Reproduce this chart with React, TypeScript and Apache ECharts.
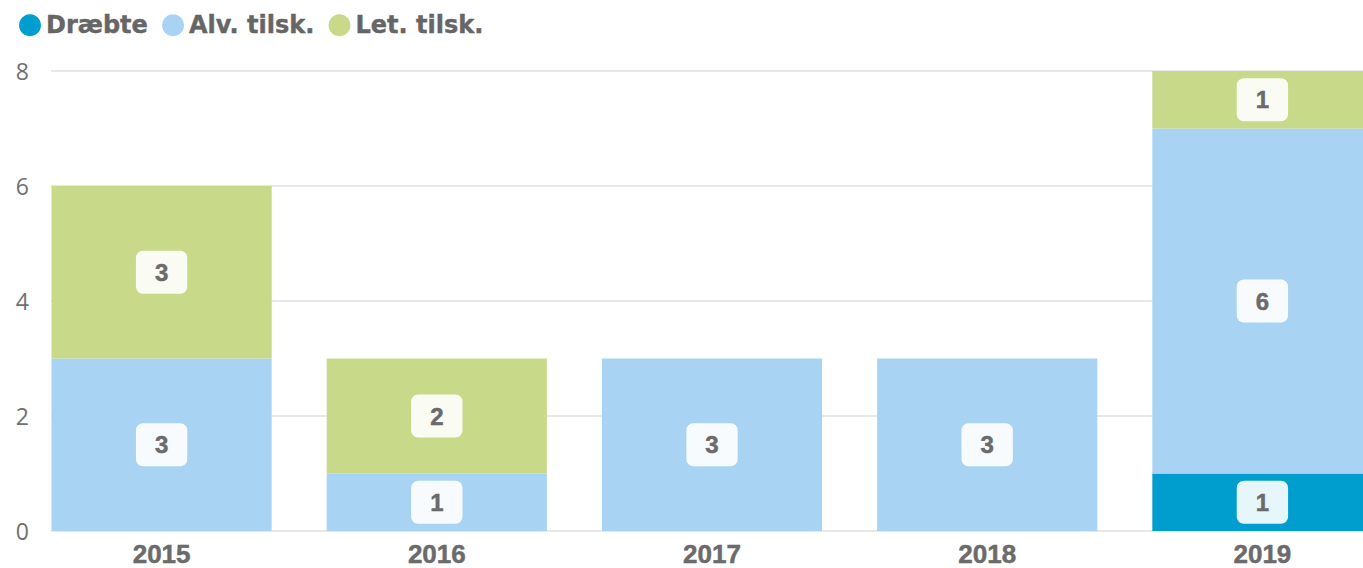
import React, { useEffect, useRef } from "react";
import * as echarts from "echarts";

const years = ["2015", "2016", "2017", "2018", "2019"];
const seriesNames = ["Dræbte", "Alv. tilsk.", "Let. tilsk."];
const draebte = [0, 0, 0, 0, 1];
const alvTilsk = [3, 1, 3, 3, 6];
const letTilsk = [3, 2, 0, 0, 1];
const colors = ["#009ece", "#a8d3f3", "#c8d98a"];
const yTicks = { min: 0, max: 8, interval: 2 };

export default function App() {
  const ref = useRef<HTMLDivElement>(null);
  useEffect(() => {
    if (!ref.current) return;
    const chart = echarts.init(ref.current, undefined, { renderer: "svg" });
    const labelStyle = {
      show: true,
      position: "inside",
      fontFamily: "Liberation Sans",
      fontWeight: "bold",
      fontSize: 24,
      lineHeight: 25,
      color: "#6b6b6b",
      textBorderColor: "#6b6b6b",
      textBorderWidth: 0.5,
      backgroundColor: "rgba(255,255,255,0.9)",
      borderRadius: 7,
      padding: [9, 19, 9, 19],
    };
    const mk = (name: string, vals: number[], i: number) => ({
      name,
      type: "bar",
      stack: "total",
      xAxisIndex: 1,
      yAxisIndex: 1,
      barCategoryGap: "20%",
      itemStyle: { color: colors[i] },
      label: labelStyle,
      data: vals.map((v) => ({ value: v, label: { show: v > 0 } })),
    });
    chart.setOption({
      animation: false,
      color: colors,
      legend: {
        left: 14,
        top: 8,
        icon: "circle",
        itemWidth: 22,
        itemHeight: 22,
        itemGap: 14,
        textStyle: {
          fontFamily: "DejaVu Sans",
          fontWeight: "bold",
          fontSize: 24,
          color: "#666666",
          textBorderColor: "#666666",
          textBorderWidth: 0.4,
          padding: [0, 0, 0, 0],
        },
        data: seriesNames,
      },
      grid: [
        { left: 51, right: 37, top: 71, bottom: 37 },
        { left: 24, right: 0, top: 71, bottom: 37 },
      ],
      xAxis: [
        {
          type: "category",
          gridIndex: 0,
          data: years,
          show: false,
        },
        {
          type: "category",
          gridIndex: 1,
          data: years,
          axisLine: { show: false },
          axisTick: { show: false },
          axisLabel: {
            margin: 10,
            fontFamily: "Liberation Sans",
            fontWeight: "bold",
            fontSize: 26,
            color: "#6b6b6b",
            textBorderColor: "#6b6b6b",
            textBorderWidth: 0.5,
          },
        },
      ],
      yAxis: [
        {
          type: "value",
          gridIndex: 0,
          ...yTicks,
          axisLine: { show: false },
          axisTick: { show: false },
          splitLine: { lineStyle: { color: "#e8e8e8", width: 2 } },
          axisLabel: {
            margin: 22,
            fontFamily: "Open Sans",
            fontSize: 23,
            color: "#707070",
          },
        },
        {
          type: "value",
          gridIndex: 1,
          ...yTicks,
          show: false,
          splitLine: { show: false },
        },
      ],
      series: [
        mk(seriesNames[0], draebte, 0),
        mk(seriesNames[1], alvTilsk, 1),
        mk(seriesNames[2], letTilsk, 2),
      ],
    });
    return () => chart.dispose();
  }, []);
  return (
    <div
      style={{
        position: "absolute",
        left: 0,
        top: 0,
        width: 1363,
        height: 568,
        overflow: "hidden",
      }}
    >
      <div ref={ref} style={{ width: 1400, height: 568 }} />
    </div>
  );
}
